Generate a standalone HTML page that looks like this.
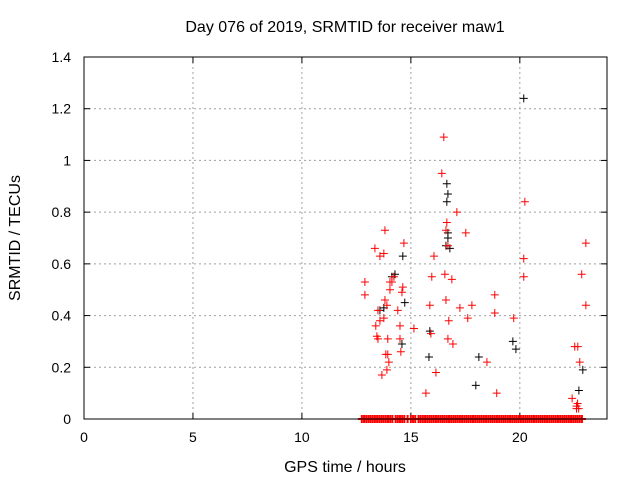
<!DOCTYPE html>
<html><head><meta charset="utf-8"><style>
body{margin:0;background:#fff;}
svg{display:block;font-family:"Liberation Sans",sans-serif;}
</style></head><body>
<svg id="chart" width="640" height="480">
<text x="345" y="32" font-size="16" text-anchor="middle">Day 076 of 2019, SRMTID for receiver maw1</text>
<text x="345" y="472" font-size="16" text-anchor="middle">GPS time / hours</text>
<text transform="translate(20,238) rotate(-90)" font-size="16" text-anchor="middle">SRMTID / TECUs</text>
<g id="grid"></g>
<g id="ticks"></g>
<g id="black"></g>
<g id="red"></g>
<rect x="84" y="57" width="523" height="362" fill="none" stroke="#000" stroke-width="1"/>
</svg>
<script>
const xTicks=[0,5,10,15,20];
const yTicks=[0,0.2,0.4,0.6,0.8,1,1.2,1.4];
const yTickLabels=["0","0.2","0.4","0.6","0.8","1","1.2","1.4"];
const redX=[12.89,12.89,13.35,13.58,13.76,13.81,13.49,13.39,13.58,13.81,13.90,14.04,14.04,13.49,13.94,13.99,13.90,13.85,13.94,14.13,14.22,14.50,14.50,14.54,14.59,14.63,14.68,14.40,13.67,13.44,13.76,15.14,15.69,15.87,15.96,15.92,16.06,16.15,16.42,16.51,16.61,16.56,16.61,16.70,16.74,16.70,16.65,16.88,16.93,17.11,17.25,17.52,17.61,17.80,18.49,18.85,18.94,18.85,19.72,20.23,20.18,20.18,23.03,22.84,23.03,22.52,22.66,22.75,22.6,22.7,22.65,22.4,22.6];
const redY=[0.53,0.48,0.66,0.63,0.64,0.73,0.42,0.36,0.38,0.46,0.44,0.50,0.53,0.31,0.25,0.22,0.19,0.25,0.31,0.53,0.55,0.36,0.31,0.26,0.49,0.51,0.68,0.42,0.17,0.32,0.39,0.35,0.10,0.44,0.55,0.33,0.63,0.18,0.95,1.09,0.73,0.56,0.46,0.31,0.38,0.67,0.76,0.54,0.29,0.80,0.43,0.72,0.39,0.44,0.22,0.48,0.10,0.41,0.39,0.84,0.62,0.55,0.68,0.56,0.44,0.28,0.28,0.22,0.05,0.04,0.06,0.08,0.04];
const zeroX=[12.75,12.85,12.95,13.05,13.15,13.25,13.35,13.45,13.55,13.65,13.75,13.85,13.95,14.05,14.15,14.3,14.4,14.5,14.6,14.7,14.85,15.0,15.1,15.2,15.35,15.45,15.55,15.65,15.75,15.85,15.95,16.05,16.15,16.25,16.35,16.45,16.55,16.65,16.75,16.85,16.95,17.05,17.15,17.25,17.35,17.45,17.55,17.65,17.75,17.85,17.95,18.05,18.15,18.25,18.35,18.45,18.55,18.65,18.75,18.85,18.95,19.05,19.15,19.25,19.35,19.45,19.55,19.65,19.75,19.85,19.95,20.05,20.15,20.25,20.35,20.45,20.55,20.65,20.75,20.85,20.95,21.05,21.15,21.25,21.35,21.45,21.55,21.65,21.75,21.85,21.95,22.05,22.15,22.25,22.35,22.45,22.55,22.65,22.75,22.85];
const blackX=[20.18,16.65,16.70,16.65,16.70,16.70,16.79,16.61,14.27,14.13,14.63,14.72,14.59,15.83,15.87,17.98,18.12,19.68,19.82,22.89,22.71,13.76,13.58];
const blackY=[1.24,0.91,0.87,0.84,0.70,0.72,0.66,0.67,0.56,0.55,0.63,0.45,0.29,0.24,0.34,0.13,0.24,0.30,0.27,0.19,0.11,0.43,0.42];
const NS="http://www.w3.org/2000/svg";
const X0=84,X1=607,Y0=419,Y1=57;
function sx(v){return X0+v/24*(X1-X0);}
function sy(v){return Y0-v/1.4*(Y0-Y1);}
function mk(t,a){const e=document.createElementNS(NS,t);for(const k in a)e.setAttribute(k,a[k]);return e;}
const grid=document.getElementById('grid'),ticks=document.getElementById('ticks');
xTicks.forEach(v=>{const x=sx(v);
 if(v>0){const l=mk('line',{x1:x,y1:Y0,x2:x,y2:Y1,stroke:'#a0a0a0','stroke-dasharray':'2,3'});
 
 grid.appendChild(l);}
 const t=mk('text',{x:x,y:442,'font-size':'14','text-anchor':'middle'});t.textContent=v;
 
 ticks.appendChild(t);
 ticks.appendChild(mk('line',{x1:x,y1:Y0,x2:x,y2:Y0-6,stroke:'#000'}));
 ticks.appendChild(mk('line',{x1:x,y1:Y1,x2:x,y2:Y1+6,stroke:'#000'}));
});
yTicks.forEach((v,i)=>{const y=sy(v);
 if(v>0&&v<1.4){const l=mk('line',{x1:X0,y1:y,x2:X1,y2:y,stroke:'#a0a0a0','stroke-dasharray':'2,3'});
 
 grid.appendChild(l);}
 const t=mk('text',{x:71,y:y+5,'font-size':'14','text-anchor':'end'});t.textContent=yTickLabels[i];
 
 ticks.appendChild(t);
 ticks.appendChild(mk('line',{x1:X0,y1:y,x2:X0+6,y2:y,stroke:'#000'}));
 ticks.appendChild(mk('line',{x1:X1,y1:y,x2:X1-6,y2:y,stroke:'#000'}));
});
function cross(g,x,y,c,name,w){const p=mk('path',{d:`M${x-4},${y}h8M${x},${y-4}v8`,stroke:c,'stroke-width':w});
 
 g.appendChild(p);}
const bg=document.getElementById('black'),rg=document.getElementById('red');
blackX.forEach((v,i)=>cross(bg,sx(v),sy(blackY[i]),'#000','black-point',1));
redX.forEach((v,i)=>cross(rg,sx(v),sy(redY[i]),'#f00','red-point',1));
zeroX.forEach(v=>cross(rg,sx(v),sy(0),'#f00','red-zero-point',2));
</script>
</body></html>
